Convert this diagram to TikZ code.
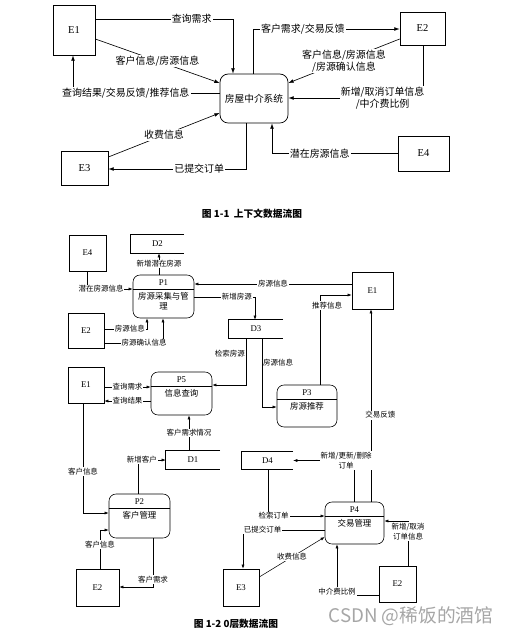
\documentclass[tikz,border=0pt]{standalone}
\usepackage{fontspec}
\setmainfont{Liberation Serif}
\newfontfamily\cjk{Noto Sans CJK SC}
\usetikzlibrary{arrows.meta, calc}
\tikzset{
    sz/.style 2 args={minimum width=#1*0.03cm, minimum height=#2*0.03cm, inner sep=0pt},
    entity/.style={rectangle, draw=black, line width=0.6pt, font=\fontsize{9}{10}\selectfont},
    ent/.style   ={rectangle, draw=black, line width=0.5pt, font=\fontsize{7.5}{9}\selectfont},
    sysbox/.style={rectangle, rounded corners=7pt, draw=black, line width=0.6pt, font=\cjk\fontsize{8.3}{10}\selectfont},
    proc/.style  ={rectangle, rounded corners=6pt, draw=black, line width=0.5pt},
    pid/.style   ={inner sep=0pt, font=\fontsize{7.5}{9}\selectfont},
    ptxt/.style  ={inner sep=1pt, align=center, font=\cjk\fontsize{7.2}{8.5}\selectfont},
    store/.style ={rectangle, font=\fontsize{7.5}{9}\selectfont},
    flow/.style  ={-{Latex[length=4.5pt,width=3.2pt]}, line width=0.55pt},
    sflow/.style ={-{Latex[length=3.5pt,width=2.6pt]}, line width=0.45pt},
    lbl/.style   ={fill=white, inner sep=1pt, align=center, font=\cjk\fontsize{8.5}{10}\selectfont},
    slbl/.style  ={fill=white, inner sep=0.8pt, align=center, font=\cjk\fontsize{6.4}{8.5}\selectfont},
    captxt/.style={font=\cjk\bfseries\fontsize{8.3}{10}\selectfont},
}
% process: name, x, y, w, h, id, text
\newcommand{\procnode}[7]{%
    \node[proc, sz={#4}{#5}] (#1) at (#2,#3) {};
    \draw[line width=0.5pt] ($(#1.north west)+(0,14.5)$) -- ($(#1.north east)+(0,14.5)$);
    \node[pid] (#1id) at ($(#1.north)+(0,7.5)$) {#6};
    \node[ptxt, anchor=north] (#1tx) at ($(#1.north)+(0,16)$) {#7};
}

\begin{document}
\begin{tikzpicture}[x=0.03cm, y=-0.03cm]
    \useasboundingbox (0,0) rectangle (511,635);
    % context diagram
    \node[entity, sz={42}{50}] (E1) at (74,30) {E1};
    \node[sysbox, sz={68}{49}] (sys) at (254,98.5) {房屋中介系统};
    \node[entity, sz={45}{33}] (E2) at (422.5,28.5) {E2};
    \node[entity, sz={47}{34}] (E3) at (84.5,168) {E3};
    \node[entity, sz={51}{35}] (E4) at (423.5,153.5) {E4};

    \draw[flow] (E1.east |- 0,19) -| node[lbl, pos=0.35] {查询需求} (sys.north -| 233,0);
    \draw[flow] (E1.east |- 0,39) -- node[lbl] {客户信息/房源信息} (sys.west |- 0,83);
    \draw[flow] (sys.west |- 0,93) -| node[lbl, pos=0.32] {查询结果/交易反馈/推荐信息} (E1.south -| 73,0);
    \draw[flow] (E3.east |- 0,157) -- node[lbl] {收费信息} (sys.west |- 0,113);
    \draw[flow] (sys.south -| 246,0) |- node[lbl, pos=0.67] {已提交订单} (E3.east |- 0,169);
    \draw[flow] (sys.north -| 253,0) |- node[lbl, pos=0.67] {客户需求/交易反馈} (E2.west |- 0,29);
    \draw[flow] (E2.west |- 0,39) -- node[lbl] {客户信息/房源信息\\/房源确认信息} (sys.east |- 0,83);
    \draw[flow] (E2.south -| 423,0) |- node[lbl, pos=0.65] {新增/取消订单信息\\/中介费比例} (sys.east |- 0,98);
    \draw[flow] (E4.west) -| node[lbl, pos=0.31] {潜在房源信息} (sys.south -| 272,0);

    \node[captxt] (cap1) at (252,214) {图 1-1\ \ 上下文数据流图};

    % level 0 diagram
    \node[ent, sz={37}{36}] (e4) at (87.5,253) {E4};
    \node[store, sz={53}{18}] (d2) at (157.5,244) {D2};
    \procnode{p1}{163.5}{296.5}{61}{43}{P1}{房源采集与管\\理}
    \node[ent, sz={36}{35}] (e2a) at (86,330.5) {E2};
    \node[ent, sz={41}{37}] (e1a) at (372.5,290.5) {E1};
    \node[store, sz={54}{18}] (d3) at (256,329) {D3};
    \procnode{p5}{181.5}{393.5}{61}{43}{P5}{信息查询}
    \procnode{p3}{307}{406}{60}{42}{P3}{房源推荐}
    \node[ent, sz={36}{36}] (e1b) at (86,385) {E1};
    \node[store, sz={54}{18}] (d1) at (193,460) {D1};
    \procnode{p2}{139.5}{516}{61}{44}{P2}{客户管理}
    \node[store, sz={51}{17}] (d4) at (267.5,460.5) {D4};
    \procnode{p4}{354.5}{523}{59}{42}{P4}{交易管理}
    \node[ent, sz={43}{37}] (e2b) at (97.5,587.5) {E2};
    \node[ent, sz={36}{37}] (e3) at (241,587.5) {E3};
    \node[ent, sz={37}{36}] (e2c) at (397.5,584) {E2};

    % data stores, open on the right
    \foreach \s in {d1,d2,d3,d4}
        \draw[line width=0.5pt] (\s.north east) -- (\s.north west) -- (\s.south west) -- (\s.south east);

    \draw[sflow] (p1.north -| 159,0) -- node[slbl] {新增潜在房源} (d2.south -| 159,0);
    \draw[sflow] (e4.south) |- node[slbl, pos=0.65] {潜在房源信息} (p1.west |- 0,289);
    \draw[sflow] (e2a.east |- 0,329) -| node[slbl, pos=0.3] {房源信息} (p1.south -| 147,0);
    \draw[sflow] (e2a.east |- 0,343) -| node[slbl, pos=0.34] {房源确认信息} (p1.south -| 163,0);
    \draw[sflow] (e1a.west |- 0,284) -- node[slbl] {房源信息} (p1.east |- 0,284);
    \draw[sflow] (p1.east |- 0,297) -| node[slbl, pos=0.35] {新增房源} (d3.north -| 255,0);
    \draw[sflow] (p3.north -| 320,0) |- node[slbl, pos=0.44, xshift=6pt] {推荐信息} (e1a.west |- 0,295);
    \draw[sflow] (p4.north -| 371,0) -- node[slbl, pos=0.45, xshift=8pt] {交易反馈} (e1a.south -| 371,0);
    \draw[sflow] (d3.south -| 246,0) |- node[slbl, fill=none, anchor=east, pos=0.16] {检索房源} (p5.east |- 0,385);
    \draw[sflow] (d3.south -| 262,0) |- node[slbl, fill=none, anchor=west, pos=0.18] {房源信息} (p3.west |- 0,407);
    \draw[sflow] (e1b.east |- 0,387) -- node[slbl] {查询需求} (p5.west |- 0,387);
    \draw[sflow] (p5.west |- 0,401) -- node[slbl] {查询结果} (e1b.east |- 0,401);
    \draw[sflow] (d1.north -| 189,0) -- node[slbl] {客户需求情况} (p5.south -| 189,0);
    \draw[sflow] (p2.north -| 138,0) |- node[slbl, pos=0.57] {新增客户} (d1.west);
    \draw[sflow] (e1b.south -| 83,0) |- node[slbl, pos=0.31] {客户信息} (p2.west |- 0,513);
    \draw[sflow] (e2b.north -| 100,0) |- node[slbl, pos=0.31] {客户信息} (p2.west |- 0,530);
    \draw[sflow] (p2.south -| 153,0) |- node[slbl, pos=0.42] {客户需求} (e2b.east |- 0,587);
    \draw[sflow] (p4.north -| 354,0) |- node[slbl, pos=0.565] {新增/更新/删除\\订单} (d4.east);
    \draw[sflow] (d4.south -| 268,0) |- node[slbl, pos=0.55] {检索订单} (p4.west |- 0,516);
    \draw[sflow] (p4.west |- 0,530) -| node[slbl, pos=0.38] {已提交订单} (e3.north -| 243,0);
    \draw[sflow] (e3.east |- 0,577) -- node[slbl] {收费信息} (p4.west |- 0,537);
    \draw[sflow] (e2c.west |- 0,595) -| node[slbl, pos=0.5, yshift=3pt] {中介费比例} (p4.south -| 337,0);
    \draw[sflow] (e2c.north -| 408,0) |- node[slbl, pos=0.38] {新增/取消\\订单信息} (p4.east |- 0,521);

    \node[captxt] (cap2) at (236,624) {图 1-2 0层数据流图};
    \node[text=black!35, font=\cjk\fontsize{16}{18}\selectfont] (wm) at (411,616) {CSDN @稀饭的酒馆};
\end{tikzpicture}
\end{document}
